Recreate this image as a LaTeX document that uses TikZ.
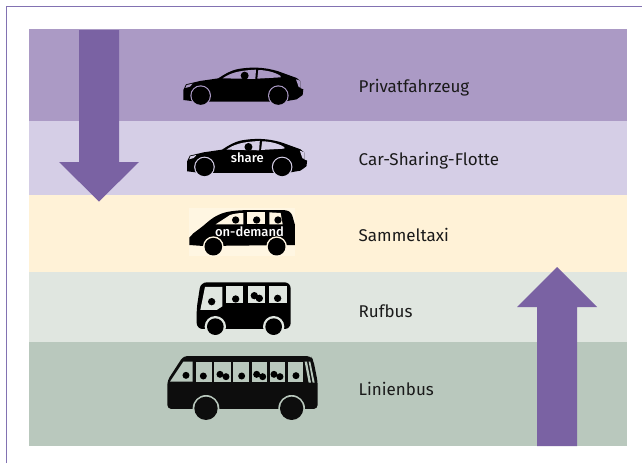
\documentclass[tikz,border=0pt]{standalone}
\usepackage{fontspec}
\setmainfont{Fira Sans}
\newfontfamily\tagfont{Fira Sans Medium}
\definecolor{bandA}{HTML}{AB9AC5}
\definecolor{bandB}{HTML}{D5CEE6}
\definecolor{bandC}{HTML}{FFF2D7}
\definecolor{bandD}{HTML}{E0E6E0}
\definecolor{bandE}{HTML}{B9C8BD}
\definecolor{patchC}{HTML}{FFF6E2}
\definecolor{arrowc}{HTML}{7A62A3}
\definecolor{framec}{HTML}{8272B2}
\definecolor{busk}{HTML}{0D0D0D}
\definecolor{labelk}{HTML}{1A1A1A}
\tikzset{
  label text/.style={anchor=base west,font=\fontsize{17}{20}\selectfont,text=labelk,inner sep=0pt},
  tag text/.style={anchor=center,font=\tagfont\fontsize{13}{15}\selectfont,text=white,inner sep=0pt},
  flow arrow/.style={fill=arrowc,draw=none},
  band/.style={draw=none},
  pics/car/.style={code={
    \fill[black] (100,150) -- (100,120) -- (108,103) -- (150,93) -- (205,85)
      .. controls (225,72) and (240,62) .. (265,57) .. controls (300,51) and (340,50) .. (385,64)
      -- (440,84) -- (452,94) -- (452,115) -- (460,118) -- (458,135) -- (440,148) -- (400,155) -- (140,155) -- cycle;
    \fill[#1] (218,85) .. controls (240,70) and (260,62) .. (318,59) -- (316,87) -- cycle;
    \fill[#1] (325,60) .. controls (345,60) and (375,66) .. (392,78) -- (392,82) -- (322,86) -- cycle;
    \fill[#1] (106,114) -- (110,105) -- (128,101) -- (120,110) -- cycle;
    \fill[#1] (438,88) -- (452,93) -- (452,113) -- (446,111) -- cycle;
    \fill[black] (284,77) circle (12);
    \fill[#1] (152,137) circle (31);
    \fill[#1] (385,137) circle (31);
    \fill[black] (152,137) circle (27.5);
    \fill[black] (385,137) circle (27.5);
  }},
  pics/van/.style={code={
    \fill[black] (118,150) -- (118,128) -- (130,115) -- (150,100)
      .. controls (170,85) and (185,68) .. (205,60) .. controls (225,50) and (250,46) .. (300,45)
      -- (395,45) .. controls (415,45) and (422,50) .. (427,62) -- (435,90) -- (435,150) -- (160,153) -- cycle;
    \fill[#1] (197,88) -- (240,60) .. controls (255,55) and (270,54) .. (280,54) -- (280,88) -- cycle;
    \fill[#1] (292,52) -- (346,52) -- (346,88) -- (292,88) -- cycle;
    \fill[#1] (358,52) -- (392,54) -- (398,88) -- (358,88) -- cycle;
    \fill[black] (257,75) circle (11);
    \fill[black] (320,75) circle (11);
    \fill[black] (384,75) circle (11);
    \fill[#1] (190,155) circle (31);
    \fill[#1] (380,155) circle (31);
    \fill[black] (190,155) circle (26.5);
    \fill[black] (380,155) circle (26.5);
  }},
  pics/rufbus/.style={code={
    \fill[black,rounded corners=6] (140,402) -- (140,340) -- (152,262) -- (422,262) -- (422,402) -- cycle;
    \fill[#1] (165,276) -- (217,276) -- (217,334) -- (200,345) -- (151,345) -- cycle;
    \fill[#1] (229,274) -- (280,274) -- (280,325) -- (229,325) -- cycle;
    \fill[#1] (294,274) -- (345,274) -- (345,325) -- (294,325) -- cycle;
    \fill[#1] (358,274) -- (410,274) -- (410,325) -- (358,325) -- cycle;
    \fill[black] (185,320) circle (11);
    \fill[black] (257,312) circle (11);
    \fill[black] (313,302) circle (11);
    \fill[black] (328,310) circle (11);
    \fill[black] (383,310) circle (11);
    \fill[#1] (196,395) circle (32);
    \fill[#1] (371,395) circle (32);
    \fill[black] (196,395) circle (25);
    \fill[black] (371,395) circle (25);
  }},
  pics/linienbus/.style={code={
    \fill[busk,rounded corners=4] (52,207) -- (52,122) -- (100,48) -- (482,48) -- (490,60) -- (503,125) -- (503,207) -- cycle;
    \fill[#1] (60,125) -- (100,65) -- (128,65) -- (128,125) -- cycle;
    \fill[#1] (138,65) -- (185,65) -- (185,125) -- (138,125) -- cycle;
    \fill[#1] (193,65) -- (242,65) -- (242,125) -- (193,125) -- cycle;
    \fill[#1] (250,65) -- (297,65) -- (297,125) -- (250,125) -- cycle;
    \fill[#1] (305,65) -- (352,65) -- (352,125) -- (305,125) -- cycle;
    \fill[#1] (360,65) -- (405,65) -- (405,125) -- (360,125) -- cycle;
    \fill[#1] (415,65) -- (458,65) -- (458,125) -- (415,125) -- cycle;
    \fill[#1] (464,65) -- (471,65) -- (483,128) -- (476,128) -- cycle;
    \fill[#1] (476,65) -- (481,65) -- (494,128) -- (488,128) -- cycle;
    \foreach \hx/\hy in {108/106,160/108,210/103,228/110,275/108,320/103,338/110,372/103,390/110,438/107}
      \fill[black] (\hx,\hy) circle (10.5);
    \fill[#1] (168,205) circle (40);
    \fill[#1] (425,205) circle (40);
    \fill[busk] (168,205) circle (35);
    \fill[busk] (425,205) circle (35);
  }}
}
\begin{document}
\begin{tikzpicture}[x=1pt,y=-1pt]
\useasboundingbox (0,0) rectangle (642,463);
\fill[white] (0,0) rectangle (642,463);
\draw[framec,line width=1.7pt] (6.5,463) -- (6.5,6.5) -- (642,6.5);
\fill[band,bandA] (29,29) rectangle (627,121);
\fill[band,bandB] (29,121) rectangle (627,195);
\fill[band,bandC] (29,195) rectangle (627,272);
\fill[band,bandD] (29,272) rectangle (627,342);
\fill[band,bandE] (29,342) rectangle (627,446);
\fill[patchC] (189.3,208.3) rectangle (295,256);
\fill[flow arrow] (79,30) -- (119,30) -- (119,162) -- (139,162) -- (99,201.5) -- (59,162) -- (79,162) -- cycle;
\fill[flow arrow] (537,446) -- (577,446) -- (577,307) -- (597,307) -- (557,267) -- (517,307) -- (537,307) -- cycle;
\pic[shift={(150,50)},scale=0.3333] {car=bandA};
\pic[shift={(153.8,121.3)},scale=0.3333] {car=bandB};
\pic[shift={(150,195)},scale=0.3333] {van=patchC};
\pic[shift={(150,195)},scale=0.3333] {rufbus=bandD};
\pic[shift={(150,340)},scale=0.3333] {linienbus=bandE};
\node[tag text] (share) at (247.3,157.5) {share};
\node[tag text] (ondemand) at (249.5,231.5) {on-demand};
\node[label text] (l1) at (358.5,92.7) {Privatfahrzeug};
\node[label text] (l2) at (358.5,165) {Car-Sharing-Flotte};
\node[label text] (l3) at (358.5,241) {Sammeltaxi};
\node[label text] (l4) at (358.5,317) {Rufbus};
\node[label text] (l5) at (358.5,395) {Linienbus};
\end{tikzpicture}
\end{document}
